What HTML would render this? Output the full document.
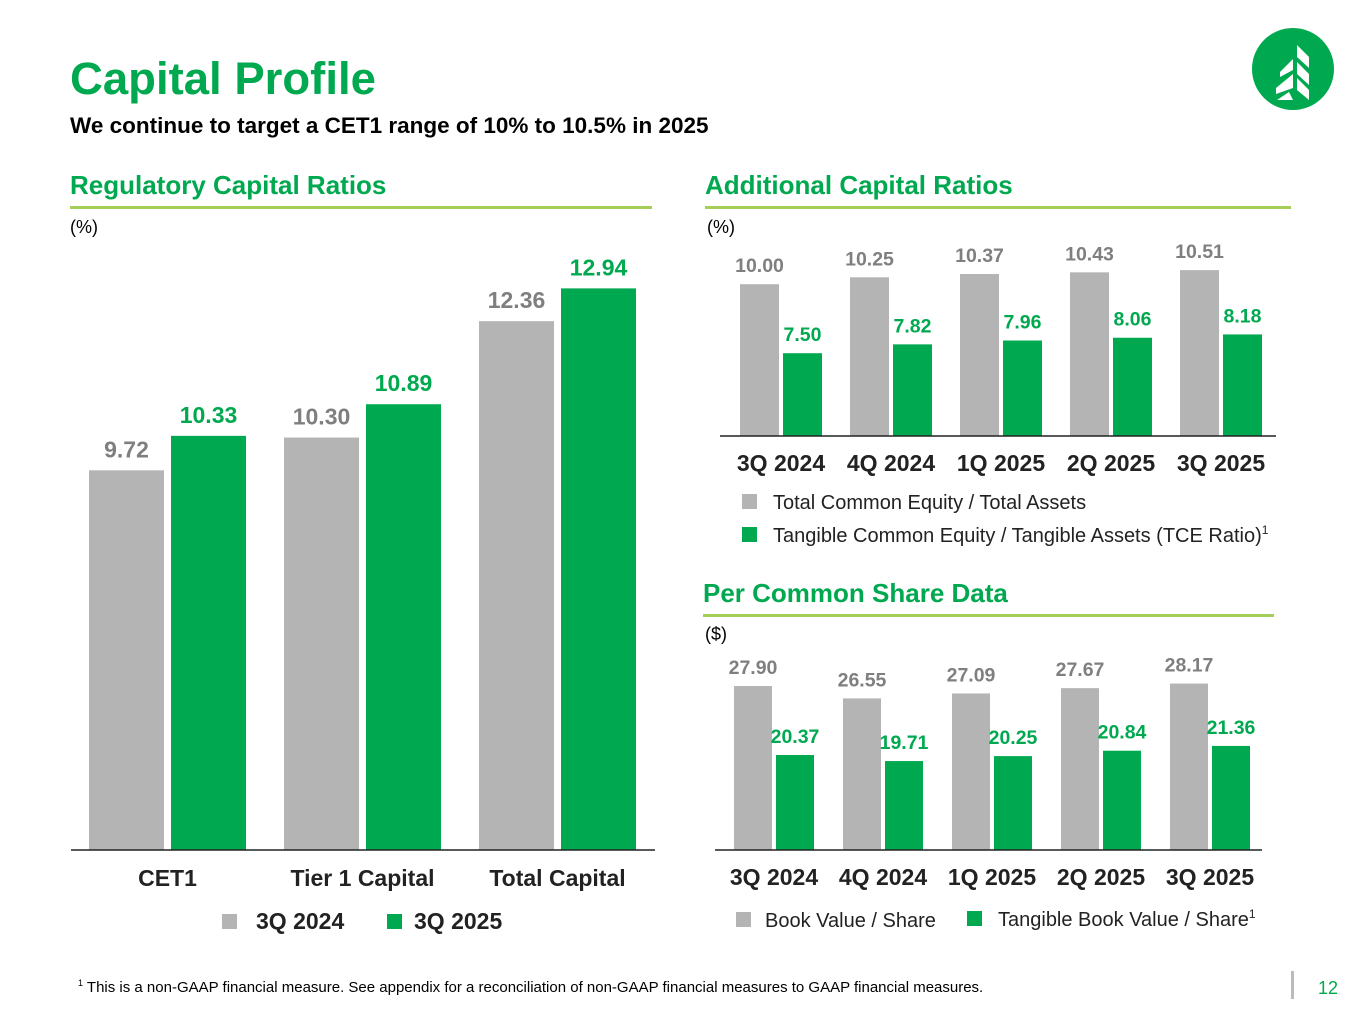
<!DOCTYPE html>
<html><head><meta charset="utf-8"><style>
body{margin:0;width:1365px;height:1024px;background:#fff;font-family:"Liberation Sans",Arial,sans-serif;overflow:hidden;position:relative}
.abs{position:absolute;white-space:nowrap}
.h{color:#00a94f;font-weight:bold;font-size:26px}
.rule{position:absolute;height:3px;background:#a5cd5a}
</style></head><body>
<div class="abs" style="left:70px;top:53px;font-size:45.5px;font-weight:bold;color:#00a94f">Capital Profile</div>
<div class="abs" style="left:70px;top:113px;font-size:22.5px;font-weight:bold;color:#000">We continue to target a CET1 range of 10% to 10.5% in 2025</div>
<svg class="abs" style="left:1252px;top:28px" width="82" height="82" viewBox="0 0 82 82"><circle cx="41" cy="41" r="41" fill="#00a94f"/><path d="M45 17 L57 29 L57 40 L45 29Z M45 34 L57 46 L57 57 L45 46Z M45 50 L57 62 L57 72 L45 62Z M41 31 L28 44 L28 49 L41 42Z M41 46 L24 60 L24 66 L41 60Z M37 64 L25 72 L41 72Z" fill="#fff"/></svg>

<div class="abs h" style="left:70px;top:170px">Regulatory Capital Ratios</div>
<div class="rule" style="left:70px;top:206px;width:582px"></div>
<div class="abs" style="left:70px;top:217px;font-size:18px;color:#000">(%)</div>

<div class="abs h" style="left:705px;top:170px">Additional Capital Ratios</div>
<div class="rule" style="left:705px;top:206px;width:586px"></div>
<div class="abs" style="left:707px;top:217px;font-size:18px;color:#000">(%)</div>

<div class="abs h" style="left:703px;top:578px">Per Common Share Data</div>
<div class="rule" style="left:703px;top:614px;width:571px"></div>
<div class="abs" style="left:705px;top:624px;font-size:18px;color:#000">($)</div>

<svg id="chart" class="abs" style="left:0;top:0" width="1365" height="1024"></svg>

<div class="abs" style="left:78px;top:978px;font-size:15px;color:#000"><sup style="font-size:9px">1</sup> This is a non-GAAP financial measure. See appendix for a reconciliation of non-GAAP financial measures to GAAP financial measures.</div>
<div class="abs" style="left:1291px;top:971px;width:3px;height:28px;background:#bbb"></div>
<div class="abs" style="left:1318px;top:978px;font-size:18px;color:#00a94f">12</div>

<script>
const regCategories=["CET1","Tier 1 Capital","Total Capital"];
const reg2024=[9.72,10.30,12.36];
const reg2025=[10.33,10.89,12.94];
const quarters=["3Q 2024","4Q 2024","1Q 2025","2Q 2025","3Q 2025"];
const tceTotal=[10.00,10.25,10.37,10.43,10.51];
const tceTangible=[7.50,7.82,7.96,8.06,8.18];
const bookValue=[27.90,26.55,27.09,27.67,28.17];
const tangibleBook=[20.37,19.71,20.25,20.84,21.36];

const svg=document.getElementById('chart');
const NS='http://www.w3.org/2000/svg';
const GRAY='#b4b4b5',GREEN='#00a94f',GTXT='#7f7f7f';
function mk(tag,attrs,name,text){const e=document.createElementNS(NS,tag);for(const k in attrs)e.setAttribute(k,attrs[k]);


if(text!==undefined)e.textContent=text;svg.appendChild(e);return e;}

function chart(o){
  const y=v=>o.base-(v-o.min)*o.scale;
  o.cats.forEach((c,i)=>{
    const gx=o.x0+i*o.step;
    [[o.a,GRAY,GTXT,0],[o.b,GREEN,GREEN,o.bw+o.gap]].forEach(([arr,fill,tc,off],s)=>{
      const v=arr[i],top=y(v),x=gx+off;
      mk('rect',{x:x,y:top,width:o.bw,height:o.base-top,fill:fill},o.id+'-bar-'+(s?'b':'a')+'-'+i);
      mk('text',{x:x+o.bw/2,y:top-o.lo,'text-anchor':'middle','font-size':o.fs,'font-weight':'bold',fill:tc,'font-family':'Liberation Sans,sans-serif'},o.id+'-value-'+(s?'b':'a')+'-'+i,v.toFixed(2));
    });
    mk('text',{x:gx+o.bw+o.gap/2,y:o.base+o.cy,'text-anchor':'middle','font-size':o.cfs,'font-weight':'bold',fill:'#222','font-family':'Liberation Sans,sans-serif'},o.id+'-category-'+i,c);
  });
  mk('line',{x1:o.ax1,x2:o.ax2,y1:o.base,y2:o.base,stroke:'#222','stroke-width':1.5},o.id+'-x-axis');
}
chart({id:'reg',cats:regCategories,a:reg2024,b:reg2025,base:850,min:3,scale:56.5,x0:89,step:195,bw:75,gap:7,lo:13,fs:23,cfs:23,cy:36,ax1:71,ax2:655});
chart({id:'add',cats:quarters,a:tceTotal,b:tceTangible,base:436,min:4.5,scale:27.6,x0:740,step:110,bw:39,gap:4,lo:12,fs:19.5,cfs:23,cy:35,ax1:720,ax2:1276});
chart({id:'share',cats:quarters,a:bookValue,b:tangibleBook,base:850,min:10,scale:9.16,x0:734,step:109,bw:38,gap:4,lo:12,fs:19.5,cfs:23,cy:35,ax1:715,ax2:1262});

function legend(x,y,color,label,name,fs,bold,gap){
  mk('rect',{x:x,y:y-8,width:15,height:15,fill:color},name+'-swatch');
  const t=mk('text',{x:x+gap,y:y+7,'font-size':fs,'font-weight':bold?'bold':'normal',fill:'#222','font-family':'Liberation Sans,sans-serif'},name,label);
  return t;
}
legend(222,922,GRAY,'3Q 2024','legend-reg-2024',23,true,34);
legend(387,922,GREEN,'3Q 2025','legend-reg-2025',23,true,27);
legend(742,502,GRAY,'Total Common Equity / Total Assets','legend-total-equity',20,false,31);
const t1=legend(742,535,GREEN,'Tangible Common Equity / Tangible Assets (TCE Ratio)','legend-tce',20,false,31);
const s1=document.createElementNS(NS,'tspan');s1.setAttribute('font-size','12');s1.setAttribute('dy','-8');s1.textContent='1';t1.appendChild(s1);
legend(736,920,GRAY,'Book Value / Share','legend-book-value',20,false,29);
const t2=legend(967,919,GREEN,'Tangible Book Value / Share','legend-tangible-book',20,false,31);
const s2=document.createElementNS(NS,'tspan');s2.setAttribute('font-size','12');s2.setAttribute('dy','-8');s2.textContent='1';t2.appendChild(s2);
</script>
</body></html>
